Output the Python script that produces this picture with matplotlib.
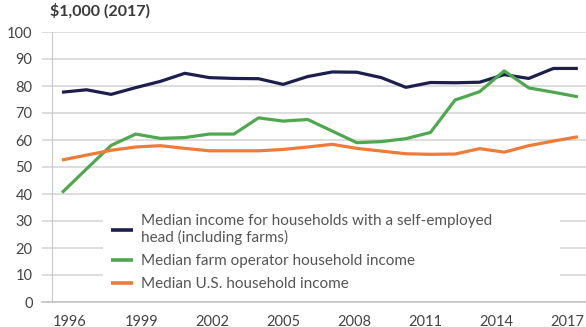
import matplotlib
matplotlib.use('Agg')
import matplotlib.pyplot as plt
from matplotlib.transforms import ScaledTranslation

plt.rcParams['font.family'] = ['Lato', 'DejaVu Sans']

# Ingreso mediano de los hogares, miles de dolares de 2017
anios = list(range(1996, 2018))
autoempleo = [77.7, 78.6, 76.9, 79.4, 81.7, 84.7, 83.1, 82.8, 82.7, 80.6, 83.5, 85.2,
              85.1, 83.1, 79.5, 81.3, 81.2, 81.4, 84.2, 82.8, 86.5, 86.5]
granja = [40.5, 49.3, 58.0, 62.2, 60.6, 60.9, 62.2, 62.2, 68.2, 67.0, 67.6, 63.3,
          59.0, 59.4, 60.5, 62.8, 74.8, 77.9, 85.6, 79.3, 77.7, 76.0]
eeuu = [52.6, 54.4, 56.2, 57.4, 57.9, 56.9, 56.0, 56.0, 56.0, 56.5, 57.4, 58.4,
        56.9, 55.9, 54.9, 54.7, 54.8, 56.8, 55.5, 57.9, 59.6, 61.2]
etiquetas = ['Median income for households with a self-employed\nhead (including farms)',
             'Median farm operator household income',
             'Median U.S. household income']
ticks_x = [1996, 1999, 2002, 2005, 2008, 2011, 2014, 2017]

fig = plt.figure(figsize=(5.86, 3.27), dpi=100)
ax = fig.add_axes([42/586, 25/327, 544/586, 270/327])

ax.plot(anios, autoempleo, color='#1c1f4e', lw=2.3, label=etiquetas[0], solid_capstyle='butt')
ax.plot(anios, granja, color='#4ea84e', lw=2.3, label=etiquetas[1], solid_capstyle='butt')
ax.plot(anios, eeuu, color='#ee7b37', lw=2.3, label=etiquetas[2], solid_capstyle='butt')

ax.set_xlim(1995.186, 2017.33)
ax.set_ylim(0, 100)
ax.set_yticks(range(0, 101, 10))
ax.set_xticks(ticks_x)
ax.grid(axis='y', color='#d3d3d3', lw=1.1)
ax.set_axisbelow(True)

for s in ['top', 'right']:
    ax.spines[s].set_visible(False)
ax.spines['left'].set_position(('data', 1995.593))
ax.spines['left'].set_color('#c8c8c8')
ax.spines['bottom'].set_color('#c0c0c0')
ax.spines['bottom'].set_linewidth(1.1)
ax.tick_params(length=0, colors='#444444', labelsize=10.5)
ax.tick_params(axis='y', pad=14)
ax.tick_params(axis='x', pad=9)

# las etiquetas de los anios van un poco corridas hacia el centro
for k, lab in enumerate(ax.get_xticklabels()):
    dx = (8 - 2.6 * k) / 100
    lab.set_transform(lab.get_transform() + ScaledTranslation(dx, 0, fig.dpi_scale_trans))

ax.text(1995.593 - 0.1, 104.8, r'\$1,000 (2017)', fontsize=11.5, fontweight='bold',
        color='#3a3a3a', va='bottom', ha='left')

leg = ax.legend(loc='lower left', bbox_to_anchor=(0.112, 0.008, 0.84, 0.35), mode='expand',
                frameon=True, facecolor='white', edgecolor='none', framealpha=1,
                fontsize=11, labelcolor='#555555', handlelength=1.4, handletextpad=0.55,
                labelspacing=0.6, borderpad=0.55, borderaxespad=0, fancybox=False)
for h in leg.get_lines():
    h.set_linewidth(2.6)
leg.set_zorder(2.2)

fig.savefig('out.png', dpi=100)
